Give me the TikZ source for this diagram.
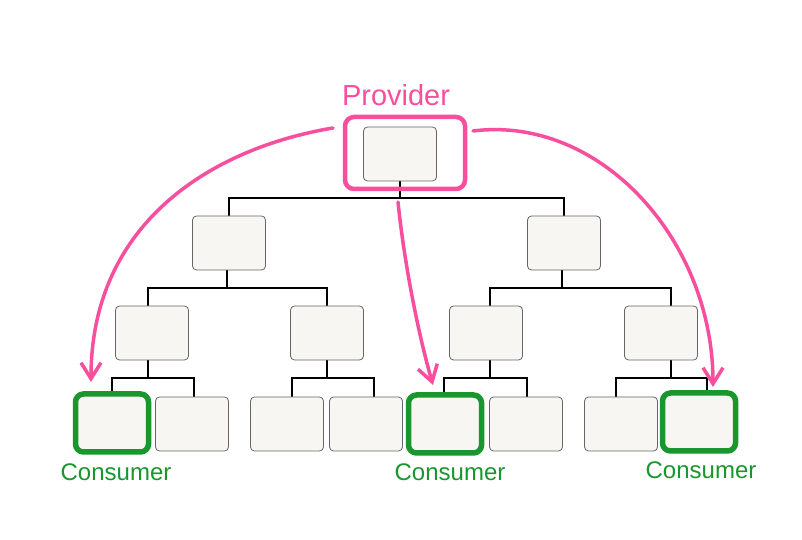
\documentclass[tikz,border=0pt]{standalone}
\usepackage{fontspec}
\setmainfont{Liberation Sans}
\usetikzlibrary{arrows.meta, backgrounds}
\definecolor{color1}{RGB}{247,79,158}
\definecolor{color2}{RGB}{26,150,46}
\definecolor{color3}{RGB}{247,246,243}

\begin{document}
\begin{tikzpicture}[x=1pt, y=1pt, line cap=round,
        box/.style={draw=black!60, fill=color3, rounded corners=4pt, line width=0.8pt,
            minimum width=73pt, minimum height=54pt, inner sep=0pt, outer sep=0pt},
        consumer/.style={box, draw=color2, line width=5.5pt, rounded corners=8pt, minimum height=58pt},
        branch/.style={line width=1.8pt},
        reach/.style={color1, line width=3.5pt, -{Straight Barb[length=16pt, width=20pt, line width=3.5pt]}},
        tag/.style={anchor=base, inner sep=0pt}]
        \useasboundingbox (0,0) rectangle (802,540);

        % tree
        \node[box] (root) at (400,386) {};
        \node[box] (a) at (229,297) {};
        \node[box] (b) at (564,297) {};

        \node[box] (aa) at (152,207) {};
        \node[box] (ab) at (327,207) {};
        \node[box] (ba) at (486,207) {};
        \node[box] (bb) at (661,207) {};

        \node[consumer] (aaa) at (112,117) {};
        \node[box] (aab) at (192,116) {};
        \node[box] (aba) at (287,116) {};
        \node[box] (abb) at (366,116) {};
        \node[consumer] (baa) at (445,116) {};
        \node[box] (bab) at (526,116) {};
        \node[box] (bba) at (621,116) {};
        \node[consumer] (bbb) at (699,118) {};

        \begin{scope}[on background layer]
            \fill[white] (0,0) rectangle (802,540);
            \draw[branch] (root.south) -- ++(0,-17) -| (a.north);
            \draw[branch] (root.south) -- ++(0,-17) -| (b.north);

            \draw[branch] ([xshift=-2]a.south) -- ++(0,-18) -| ([xshift=-4]aa.north);
            \draw[branch] ([xshift=-2]a.south) -- ++(0,-18) -| (ab.north);
            \draw[branch] ([xshift=-2]b.south) -- ++(0,-18) -| ([xshift=4]ba.north);
            \draw[branch] ([xshift=-2]b.south) -- ++(0,-18) -| ([xshift=10]bb.north);

            \draw[branch] ([xshift=-4]aa.south) -- ++(0,-18) -| (aaa.north);
            \draw[branch] ([xshift=-4]aa.south) -- ++(0,-18) -| ([xshift=2]aab.north);
            \draw[branch] (ab.south) -- ++(0,-18) -| ([xshift=5]aba.north);
            \draw[branch] (ab.south) -- ++(0,-18) -| ([xshift=8]abb.north);
            \draw[branch] ([xshift=4]ba.south) -- ++(0,-18) -| ([xshift=-1]baa.north);
            \draw[branch] ([xshift=4]ba.south) -- ++(0,-18) -| ([xshift=1]bab.north);
            \draw[branch] ([xshift=10]bb.south) -- ++(0,-18) -| ([xshift=-5]bba.north);
            \draw[branch] ([xshift=10]bb.south) -- ++(0,-18) -| ([xshift=8]bbb.north);
        \end{scope}

        % provider and consumers
        \node[draw=color1, line width=4.5pt, rounded corners=9pt, minimum width=120pt,
            minimum height=72pt, inner sep=0pt, outer sep=0pt] (prov) at (405,387) {};
        \node[tag, color1, font=\fontsize{29}{30}\selectfont] (provtext) at (396,434) {Provider};
        \node[tag, color2, font=\fontsize{24}{25}\selectfont] (cons1) at (116,59) {Consumer};
        \node[tag, color2, font=\fontsize{24}{25}\selectfont] (cons2) at (450,59) {Consumer};
        \node[tag, color2, font=\fontsize{24}{25}\selectfont] (cons3) at (701,61) {Consumer};

        \draw[reach] ([shift={(-12,25)}]prov.west) .. controls +(-120,-20) and +(0,160) .. ([shift={(-21,12)}]aaa.north);
        \draw[reach] ([shift={(-7,-13)}]prov.south) .. controls +(7,-68) and +(-13,45) .. ([shift={(-12,10)}]baa.north);
        \draw[reach] ([shift={(8,22)}]prov.east) .. controls +(127,16) and +(0,147) .. ([shift={(14,6)}]bbb.north);
\end{tikzpicture}
\end{document}
